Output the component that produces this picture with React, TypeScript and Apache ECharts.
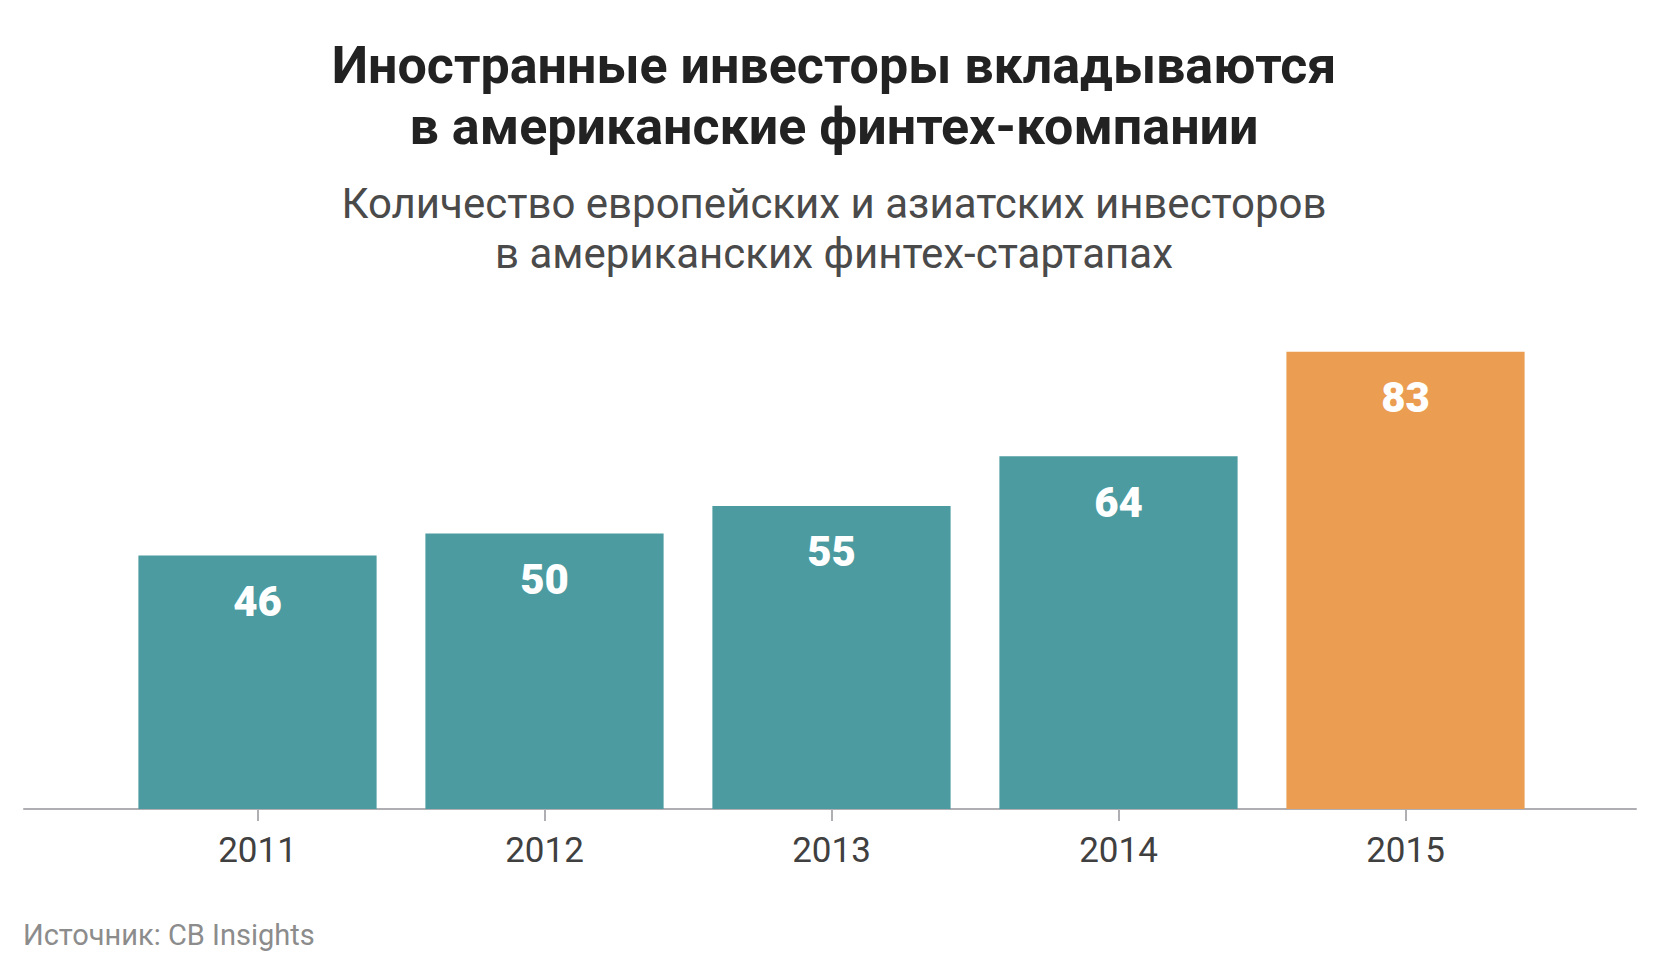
import React, { useEffect, useRef } from "react";
import * as echarts from "echarts";

const years = ["2011", "2012", "2013", "2014", "2015"];
const investors = [46, 50, 55, 64, 83];
const barColors = ["#4c9ba0", "#4c9ba0", "#4c9ba0", "#4c9ba0", "#eb9d52"];

const titleText = "Иностранные инвесторы вкладываются\nв американские финтех-компании";
const subtitleText = "Количество европейских и азиатских инвесторов\nв американских финтех-стартапах";
const sourceText = "Источник: CB Insights";

export default function App() {
  const ref = useRef<HTMLDivElement>(null);
  useEffect(() => {
    if (!ref.current) return;
    const chart = echarts.init(ref.current, null, { renderer: "svg" });
    const font = "Roboto";
    chart.setOption({
      animation: false,
      backgroundColor: "#ffffff",
      title: [
        {
          text: titleText,
          left: 834,
          top: 35,
          padding: 0,
          textAlign: "center",
          textStyle: { fontFamily: font, fontSize: 52, fontWeight: "bold", color: "#222222", lineHeight: 61 },
        },
        {
          text: subtitleText,
          left: 834,
          top: 178,
          padding: 0,
          textAlign: "center",
          textStyle: { fontFamily: font, fontSize: 42, fontWeight: "normal", color: "#4a4a4a", lineHeight: 50 },
        },
        {
          text: sourceText,
          left: 23,
          top: 920,
          padding: 0,
          textStyle: { fontFamily: font, fontSize: 29, fontWeight: "normal", color: "#8c8c8c" },
        },
      ],
      grid: [
        { left: 114, right: 118, top: 258, bottom: 162 },
        { left: 24, right: 31, top: 258, bottom: 162 },
      ],
      xAxis: [
        {
          type: "category",
          gridIndex: 0,
          data: years,
          axisLine: { show: false },
          axisTick: { show: true, alignWithLabel: true, length: 12, lineStyle: { color: "#aeaeb3", width: 2 } },
          axisLabel: { fontFamily: font, fontSize: 35, color: "#404040", margin: 24 },
        },
        {
          type: "value",
          gridIndex: 1,
          min: 0,
          max: 1,
          axisLine: { show: true, onZero: false, lineStyle: { color: "#aeaeb3", width: 2 } },
          axisTick: { show: false },
          axisLabel: { show: false },
          splitLine: { show: false },
        },
      ],
      yAxis: [
        { type: "value", gridIndex: 0, min: 0, max: 100, show: false, splitLine: { show: false } },
        { type: "value", gridIndex: 1, min: 0, max: 100, show: false, splitLine: { show: false } },
      ],
      series: [
        {
          type: "bar",
          xAxisIndex: 0,
          yAxisIndex: 0,
          barCategoryGap: "17%",
          data: investors.map((v, i) => ({ value: v, itemStyle: { color: barColors[i] } })),
          label: {
            show: true,
            position: "insideTop",
            distance: 25,
            fontFamily: font,
            fontSize: 42,
            fontWeight: 900,
            color: "#ffffff",
          },
        },
      ],
    });
    return () => chart.dispose();
  }, []);
  return <div ref={ref} style={{ position: "absolute", left: 0, top: 0, width: 1667, height: 971 }} />;
}
